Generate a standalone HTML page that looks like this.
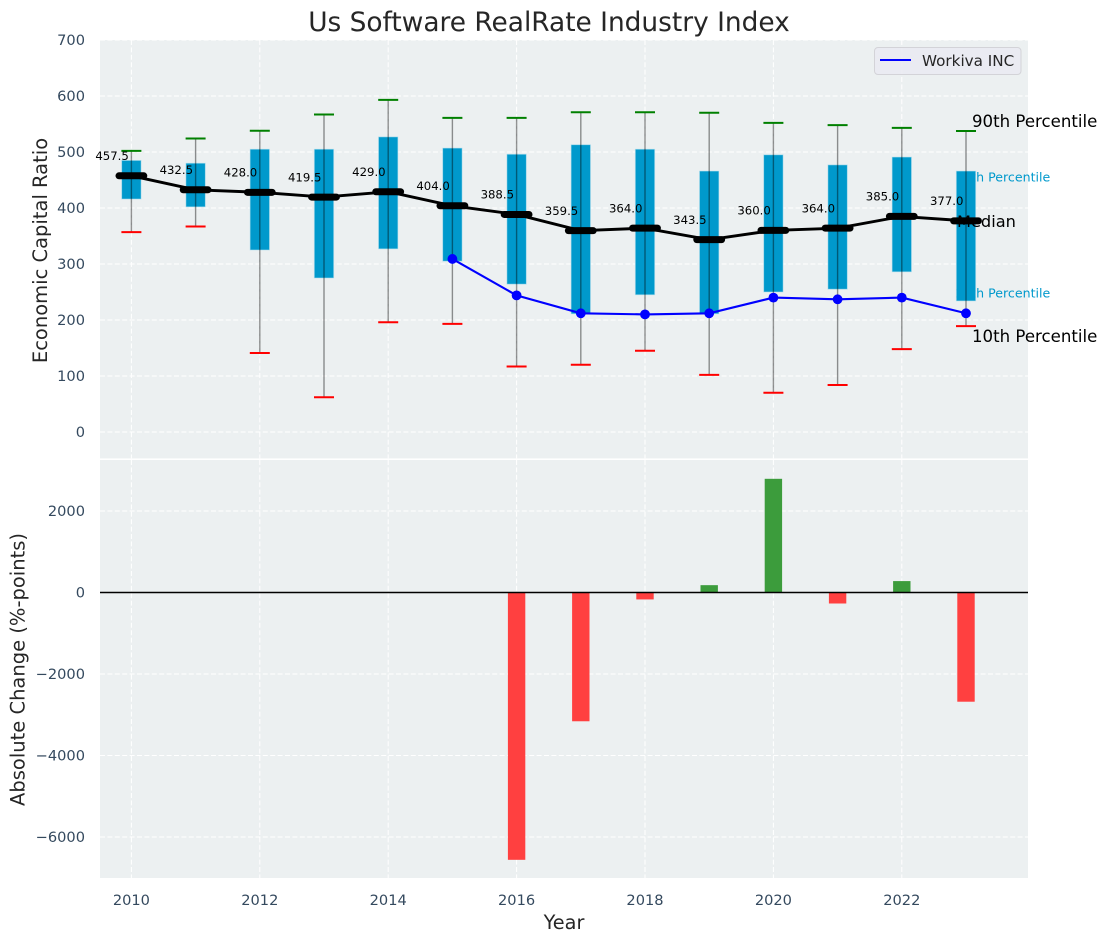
<!DOCTYPE html>
<html lang="en">
<head>
<meta charset="utf-8">
<title>Us Software RealRate Industry Index</title>
<style>
html,body{margin:0;padding:0;background:#fff;}
svg{display:block;font-family:"DejaVu Sans","Liberation Sans",sans-serif;}
</style>
</head>
<body>
<svg id="chart" xmlns="http://www.w3.org/2000/svg" width="1107" height="942" viewBox="0 0 1107 942"></svg>
<script>
const years = [2010,2011,2012,2013,2014,2015,2016,2017,2018,2019,2020,2021,2022,2023];
const medians = [457.5,432.5,428,419.5,429,404,388.5,359.5,364,343.5,360,364,385,377];
const q1 = [416,402,325,275,327,305,264,211,245,211,250,255,286,234];
const q3 = [485,480,505,505,527,507,496,513,505,466,495,477,491,466];
const p90 = [502,524,538,567,593,561,561,571,571,570,552,548,543,537.5];
const p10 = [357,367,141,62,196,193,117,120,145,102,70,84,148,189];
const workivaYears = [2015,2016,2017,2018,2019,2020,2021,2022,2023];
const workivaValues = [309,244,212,210,212,240,237,240,212];
const changeYears = [2016,2017,2018,2019,2020,2021,2022,2023];
const changeValues = [-6560,-3160,-170,180,2790,-270,280,-2680];
const topTicks = [0,100,200,300,400,500,600,700];
const bottomTicks = [-6000,-4000,-2000,0,2000];
const xTicks = [2010,2012,2014,2016,2018,2020,2022];

const svg = document.getElementById('chart');
const NS = 'http://www.w3.org/2000/svg';
const plotLeft = 100, plotRight = 1028;
const topPanelTop = 40, topPanelBottom = 458.4;
const botPanelTop = 460, botPanelBottom = 878;

function x(year){ return 131.4 + (year - 2010) * 64.2; }
function yTop(v){ return 432 - v * 0.56; }
function yBot(v){ return 592.5 - v * 0.04075; }
function fmt(v){ return String(v).replace('-', '\u2212'); }
function make(tag, attrs, text){
  const e = document.createElementNS(NS, tag);
  for (const k in attrs) e.setAttribute(k, attrs[k]);
  if (text !== undefined) e.textContent = text;
  svg.appendChild(e);
  return e;
}
let el;

/* panels */
el = make('rect',{x:plotLeft,y:topPanelTop,width:plotRight-plotLeft,height:topPanelBottom-topPanelTop,fill:'#ecf0f1'});


el = make('rect',{x:plotLeft,y:botPanelTop,width:plotRight-plotLeft,height:botPanelBottom-botPanelTop,fill:'#ecf0f1'});



/* grid */
const gridStyle = {stroke:'#ffffff','stroke-width':1,'stroke-dasharray':'5 2.4'};
xTicks.forEach(function(t){
  el = make('line',Object.assign({x1:x(t),x2:x(t),y1:topPanelTop,y2:topPanelBottom},gridStyle));
  
  
  el = make('line',Object.assign({x1:x(t),x2:x(t),y1:botPanelTop,y2:botPanelBottom},gridStyle));
  
  
  el = make('text',{x:x(t),y:905,'text-anchor':'middle','font-size':14.6,fill:'#34495e'},String(t));
  
  
});
topTicks.forEach(function(t){
  el = make('line',Object.assign({x1:plotLeft,x2:plotRight,y1:yTop(t),y2:yTop(t)},gridStyle));
  
  
  el = make('text',{x:85,y:yTop(t)+5.2,'text-anchor':'end','font-size':14.6,fill:'#34495e'},String(t));
  
  
});
bottomTicks.forEach(function(t){
  el = make('line',Object.assign({x1:plotLeft,x2:plotRight,y1:yBot(t),y2:yBot(t)},gridStyle));
  
  
  el = make('text',{x:85,y:yBot(t)+5.2,'text-anchor':'end','font-size':14.6,fill:'#34495e'},fmt(t));
  
  
});

/* percentile captions that sit under the last box */
const lastIdx = years.length - 1;
const labelX = x(years[lastIdx]);
el = make('text',{x:labelX-10.8,y:yTop(q3[lastIdx])+10.7,'font-size':12.6,fill:'#0099cc'},'75th Percentile');


el = make('text',{x:labelX-10.8,y:yTop(q1[lastIdx])-3.3,'font-size':12.6,fill:'#0099cc'},'25th Percentile');



/* boxes */
years.forEach(function(yr,i){
  el = make('rect',{x:x(yr)-9.7,y:yTop(q3[i]),width:19.4,height:yTop(q1[i])-yTop(q3[i]),fill:'#0099cc',stroke:'#b5e0ee','stroke-width':0.8,'stroke-opacity':0.7});
  
  
});

/* whiskers and caps */
years.forEach(function(yr,i){
  el = make('line',{x1:x(yr),x2:x(yr),y1:yTop(p90[i]),y2:yTop(p10[i]),stroke:'#000','stroke-opacity':0.42,'stroke-width':1.4});
  
  
  el = make('line',{x1:x(yr)-10,x2:x(yr)+10,y1:yTop(p90[i]),y2:yTop(p90[i]),stroke:'#008000','stroke-width':2});
  
  
  el = make('line',{x1:x(yr)-10,x2:x(yr)+10,y1:yTop(p10[i]),y2:yTop(p10[i]),stroke:'#ff0000','stroke-width':2});
  
  
});

/* end captions */
el = make('text',{x:labelX+6,y:yTop(p90[lastIdx])-4,'font-size':16.6,fill:'#000'},'90th Percentile');


el = make('text',{x:labelX+6,y:yTop(p10[lastIdx])+16,'font-size':16.6,fill:'#000'},'10th Percentile');


el = make('text',{x:labelX-9,y:yTop(medians[lastIdx])+6,'font-size':16.2,fill:'#000'},'Median');



/* median line */
el = make('polyline',{points:years.map(function(yr,i){return x(yr)+','+yTop(medians[i]);}).join(' '),fill:'none',stroke:'#000','stroke-width':2.9});


years.forEach(function(yr,i){
  el = make('line',{x1:x(yr)-12.4,x2:x(yr)+12.4,y1:yTop(medians[i]),y2:yTop(medians[i]),stroke:'#000','stroke-width':7,'stroke-linecap':'round'});
  
  
  el = make('text',{x:x(yr)-19.3,y:yTop(medians[i])-15.8,'text-anchor':'middle','font-size':11.7,fill:'#000'},medians[i].toFixed(1));
  
  
});

/* Workiva line */
el = make('polyline',{points:workivaYears.map(function(yr,i){return x(yr)+','+yTop(workivaValues[i]);}).join(' '),fill:'none',stroke:'#0000ff','stroke-width':2.1});


workivaYears.forEach(function(yr,i){
  el = make('circle',{cx:x(yr),cy:yTop(workivaValues[i]),r:4.9,fill:'#0000ff'});
  
  
});

/* change bars */
changeYears.forEach(function(yr,i){
  const v = changeValues[i];
  const top = Math.min(yBot(v), yBot(0));
  const h = Math.abs(yBot(v) - yBot(0));
  el = make('rect',{x:x(yr)-8.7,y:top,width:17.4,height:h,fill:v < 0 ? '#ff4040' : '#3c9c3c'});
  
  
});
el = make('line',{x1:plotLeft,x2:plotRight,y1:yBot(0),y2:yBot(0),stroke:'#000','stroke-width':1.4});



/* legend */
el = make('rect',{x:874.5,y:47.5,width:146.5,height:27,rx:3.5,fill:'#eaeaf2','fill-opacity':0.9,stroke:'#d3d3d8','stroke-width':1});


el = make('line',{x1:880,x2:911,y1:60,y2:60,stroke:'#0000ff','stroke-width':2});


el = make('text',{x:922,y:66,'font-size':15.2,fill:'#262626'},'Workiva INC');



/* titles */
el = make('text',{x:549,y:31,'text-anchor':'middle','font-size':26.4,fill:'#262626'},'Us Software RealRate Industry Index');


el = make('text',{x:564,y:929,'text-anchor':'middle','font-size':19.3,fill:'#262626'},'Year');


el = make('text',{transform:'translate(47,250.5) rotate(-90)','text-anchor':'middle','font-size':19.5,fill:'#262626'},'Economic Capital Ratio');


el = make('text',{transform:'translate(24.5,669.5) rotate(-90)','text-anchor':'middle','font-size':19.5,fill:'#262626'},'Absolute Change (%-points)');


</script>
</body>
</html>
